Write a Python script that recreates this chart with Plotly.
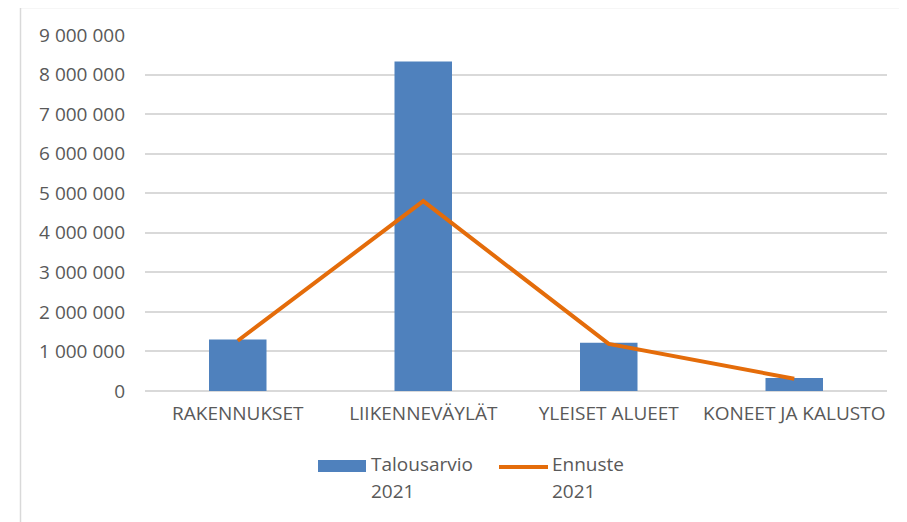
import plotly.graph_objects as go

categories = ["RAKENNUKSET", "LIIKENNEVÄYLÄT", "YLEISET ALUEET", "KONEET JA KALUSTO"]
talousarvio = [1300000, 8330000, 1220000, 330000]
ennuste = [1270000, 4800000, 1190000, 310000]
series_names = ["Talousarvio 2021", "Ennuste 2021"]
tick_vals = [0, 1000000, 2000000, 3000000, 4000000, 5000000, 6000000, 7000000, 8000000, 9000000]
tick_text = ["0", "1 000 000", "2 000 000", "3 000 000", "4 000 000", "5 000 000",
             "6 000 000", "7 000 000", "8 000 000", "9 000 000"]

BLUE = "#4F81BD"
ORANGE = "#E46C0A"
GREY_TXT = "#595959"
GRID = "#D9D9D9"
FONT = "Open Sans"
FS = 19

fig = go.Figure()
fig.add_trace(go.Bar(x=categories, y=talousarvio, name=series_names[0],
                     marker=dict(color=BLUE, line=dict(width=0))))
fig.add_trace(go.Scatter(x=categories, y=ennuste, name=series_names[1], mode="lines",
                         line=dict(color=ORANGE, width=4)))

# page body has an 8px margin; figure sits at (8, 8) in the screenshot
OFF = 8
W, H = 907 - OFF, 522 - OFF
PL, PR, PT, PB = 145, 887, 35, 391  # plot area in screenshot pixels
L, T = PL - OFF, PT - OFF
R = W - (PR - OFF)
B = H - (PB - OFF)
pw, ph = PR - PL, PB - PT

def px(x):
    return (x - PL) / pw

def py(y):
    return (PB - y) / ph

shapes = [
    # chart frame (left and top)
    dict(type="line", xref="paper", yref="paper", x0=px(20.5), x1=px(907), y0=py(7.5), y1=py(7.5),
         line=dict(color=GRID, width=1.5)),
    dict(type="line", xref="paper", yref="paper", x0=px(20.5), x1=px(20.5), y0=py(7.5), y1=py(522),
         line=dict(color=GRID, width=1.5)),
    # legend swatches
    dict(type="rect", xref="paper", yref="paper", x0=px(318), x1=px(366), y0=py(472), y1=py(460),
         fillcolor=BLUE, line=dict(width=0)),
    dict(type="line", xref="paper", yref="paper", x0=px(499), x1=px(548), y0=py(467), y1=py(467),
         line=dict(color=ORANGE, width=4)),
]

annotations = []
for name, xl in zip(series_names, [369, 550]):
    parts = name.split(" ")
    for part, yc in zip(parts, [464, 491]):
        annotations.append(dict(text=part, xref="paper", yref="paper", x=px(xl), y=py(yc),
                                xanchor="left", yanchor="middle", showarrow=False,
                                font=dict(family=FONT, size=FS, color=GREY_TXT)))

fig.update_layout(
    width=W, height=H,
    margin=dict(l=L, r=R, t=T, b=B),
    paper_bgcolor="white", plot_bgcolor="white",
    showlegend=False,
    bargap=0.69,
    font=dict(family=FONT, size=FS, color=GREY_TXT),
    shapes=shapes,
    annotations=annotations,
)
fig.update_xaxes(showgrid=False, showline=False, ticks="", ticklabelstandoff=9,
                 tickfont=dict(family=FONT, size=FS, color=GREY_TXT))
fig.update_yaxes(range=[0, 9000000], tickvals=tick_vals, ticktext=tick_text,
                 showgrid=True, gridcolor=GRID, gridwidth=1.5,
                 zeroline=True, zerolinecolor=GRID, zerolinewidth=1.5,
                 showline=False, ticks="", ticklabelstandoff=19,
                 tickfont=dict(family=FONT, size=FS, color=GREY_TXT))

fig.write_html("out.html")
